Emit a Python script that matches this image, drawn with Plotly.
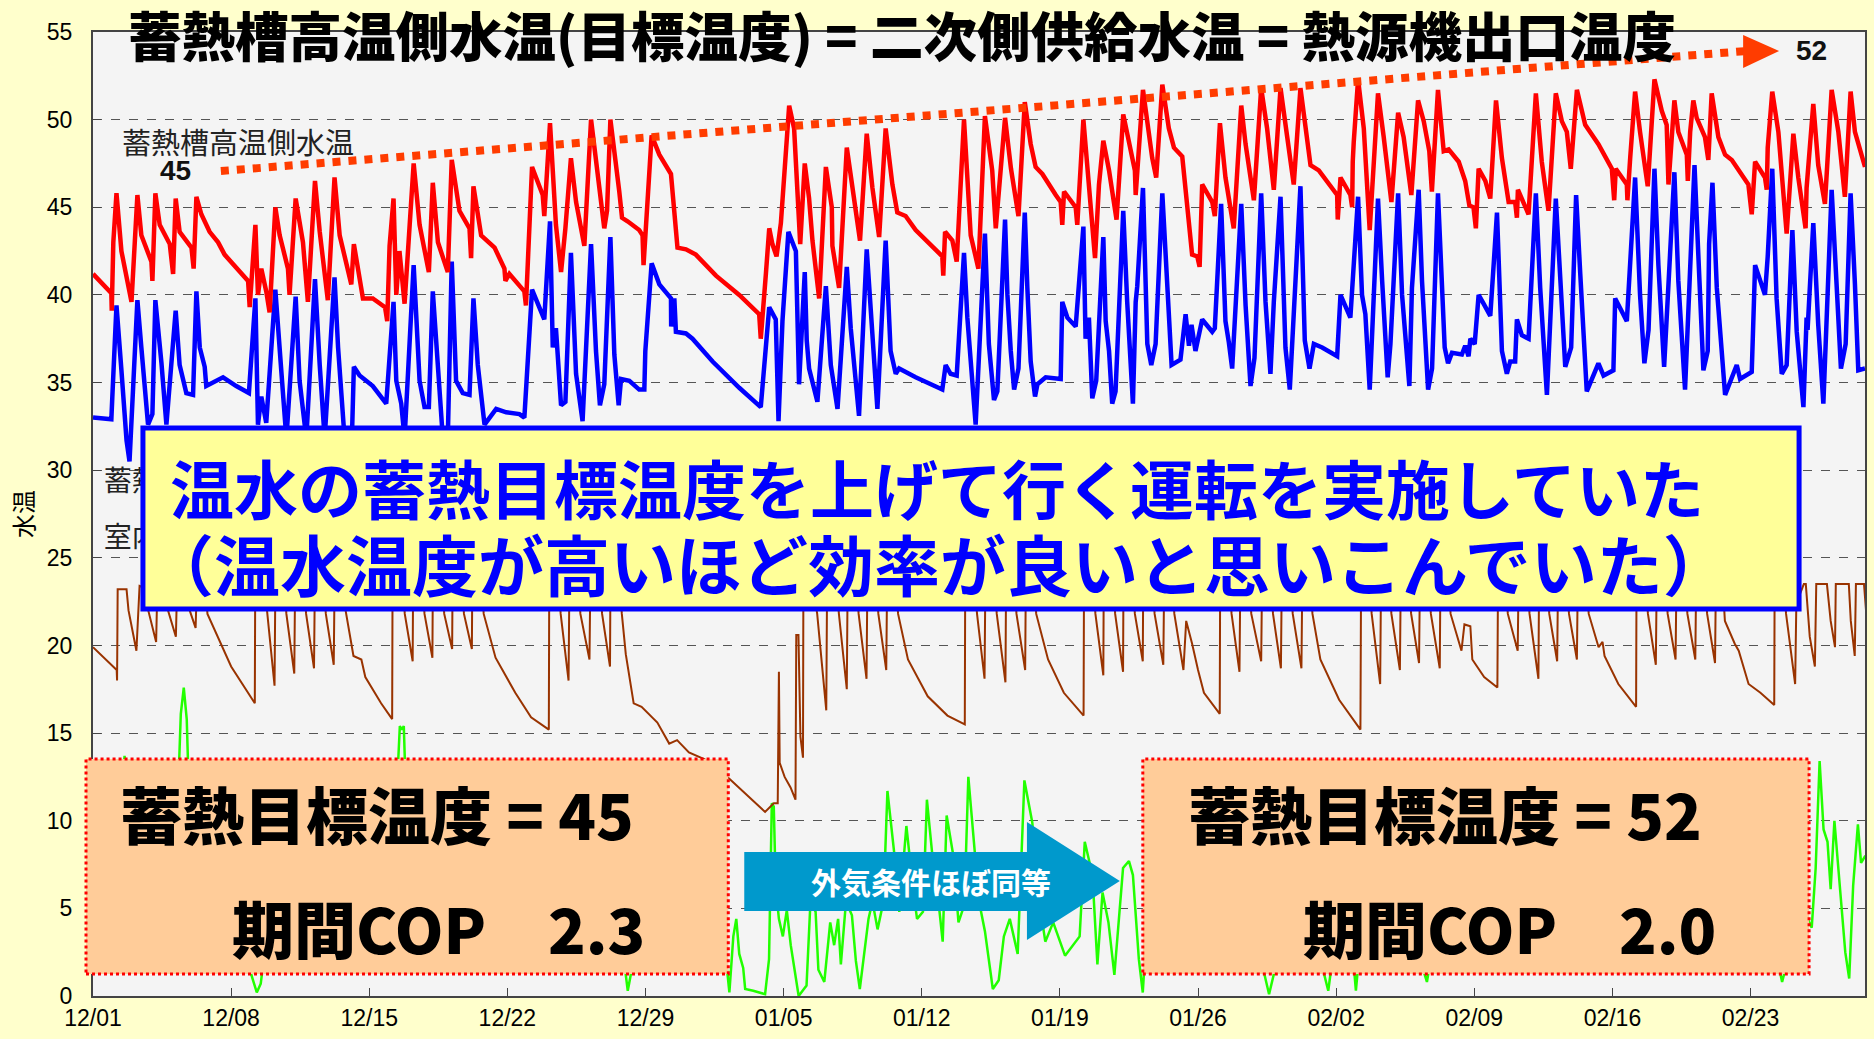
import plotly.graph_objects as go
import pandas as pd

# ---------------- data (day offset from 12/01, value in deg C) ----------------
red_day = [0,0.93,0.95,1.02,1.03,1.19,1.44,1.95,2.25,2.45,2.96,3.01,3.16,3.38,3.89,4.06,4.19,4.39,4.99,5.1,5.24,5.49,5.91,6.34,6.67,7.86,7.94,8.23,8.36,8.53,8.78,8.95,9.24,9.46,9.88,9.96,10.27,10.64,10.89,11.25,11.49,11.9,12.24,12.5,12.92,13.09,13.22,13.68,14.18,14.8,14.91,15.03,15.23,15.37,15.53,15.79,16.25,16.55,17.02,17.22,17.48,17.98,18.18,18.57,19.08,19.16,19.28,19.67,20.35,20.85,20.9,21.1,21.86,21.94,22.25,22.79,22.87,23.16,
           23.46,23.72,23.94,24.22,24.48,24.9,25.24,25.57,25.91,26.05,26.22,26.67,26.81,27.09,27.68,27.85,27.9,28.31,28.7,29.29,29.62,30.05,30.55,31.57,32.75,33.76,33.84,34.1,34.27,34.43,34.64,34.86,34.94,35.28,35.53,35.84,36.07,36.29,36.46,36.8,37.14,37.44,37.47,37.81,38.2,38.49,38.87,39.21,39.5,39.84,40.17,40.51,40.76,41.18,41.69,43.04,43.09,43.18,43.55,43.77,44.14,44.48,44.87,45.2,45.57,45.75,
           46.22,46.52,46.9,47.22,47.52,47.77,48.11,48.79,49.04,49.12,49.21,49.8,49.88,50.19,50.47,50.78,50.98,51.2,51.49,51.87,52.21,52.5,52.8,52.84,53.21,53.68,53.88,54.19,54.52,54.78,55.2,55.7,55.96,56.08,56.21,56.72,56.85,57.11,57.39,57.81,58.19,58.41,58.83,59.2,59.5,59.84,60.18,60.52,60.85,61.19,61.7,62.12,62.62,63.05,63.08,63.22,63.72,63.81,63.84,63.89,64.11,64.4,64.7,65.12,65.41,65.8,66.14,66.42,66.81,67.15,67.44,67.72,67.85,68.16,68.45,
           68.7,69.21,69.54,69.75,69.96,70.08,70.22,70.56,70.81,71.1,71.4,71.74,72.07,72.16,72.21,72.75,73.12,73.42,73.76,74.13,74.44,74.69,74.89,75.2,75.62,76.29,76.97,77.09,77.17,77.73,77.76,77.9,78.15,78.4,78.79,79.13,79.5,79.75,79.84,80.14,80.34,80.77,80.82,80.94,81.1,81.27,81.69,81.86,82.03,82.37,82.71,83.05,83.89,84.06,84.23,84.73,84.82,84.87,85.1,85.41,85.83,86.17,86.42,86.79,86.84,87.18,87.43,87.77,88.11,88.45,88.78,89.07,89.29,89.8]
red_val = [41.2,40.1,39.1,41.5,43,45.8,42.5,39.6,45.7,43.4,41.9,40.8,45.8,44,42.9,41.2,45.5,43.6,42.7,41.5,45.6,44.6,43.6,43,42.3,40.8,39.3,44,40,41.5,40.2,39,45,43.4,41.5,40,45.5,43,39.6,46.5,43.6,39.7,46.7,43.4,41.5,40.6,42.9,39.8,39.8,39.3,38.5,42.8,45.5,40,42.5,39.5,47.5,44,41.3,46.4,43,41.3,47.7,44.8,43.8,42.1,46.2,43.4,42.7,41.5,40.8,41.2,40.2,39.4,47.3,45.7,44.5,49.8,
           44,41.3,43.8,47.8,45.3,42.8,50,46.7,43.8,44.8,50,45.9,44.4,44.2,43.7,43.4,41.7,49.1,48,46.9,42.7,42.6,42.3,41.1,40,38.9,37.5,41.2,43.8,42.9,42.2,44.1,45.3,50.8,49.5,42.9,47.5,45.5,43.1,39.8,47.3,45,42.8,40.4,48.4,45.9,43.1,49.2,46.1,43.3,49.5,46.3,44.7,44.5,43.7,42.2,41.1,43.6,43.1,41.9,50,43.4,41.5,50.2,47.1,43.8,
           50.1,47.2,44.5,51,48.6,47.3,46.9,45.7,45.3,44,45.9,45,44,50,46.5,42.1,46.3,48.8,47.1,44.3,50.3,48.6,47.1,45.7,51.7,47.8,46.7,52,49.5,48.4,47.9,42.3,42.2,41.6,46.3,45.3,44.5,49.8,46.7,43.8,50.8,48.6,45.4,51.8,49.5,46,51.8,49,46.3,51.8,47.4,47.1,46.3,45.7,44.3,46.7,45.7,45,47.6,48.7,52.3,49.5,43.7,51.5,49,45.3,50.4,49,45.7,51.1,49.9,48.2,45.9,51.7,48.2,
           48.3,47.6,46.5,45.1,45,43.8,47.2,46.5,45.5,51.1,47.8,45.3,45.3,44.4,46,44.6,51.5,47.6,44.8,51.5,49.9,49.3,47.2,51.7,49.7,48.6,47.2,45.4,47.2,46.3,45.4,47.8,51.6,49.3,46.2,52.3,50.5,49.7,46.3,51.1,49.3,48,46.5,49.3,51.1,50.1,49,47.7,51.5,49,48,47.7,46.3,44.6,47.6,46.7,46,48.4,51.6,49.3,43.5,49.2,46.7,43.8,46.1,50.9,47.4,45.2,51.7,49.3,45.6,51.6,49.3,47.3]

blue_day = [0,0.93,0.98,1.02,1.19,1.44,1.7,1.85,2.25,2.45,2.71,2.79,3.01,3.16,3.47,3.72,4.19,4.39,4.73,5.07,5.24,5.41,5.66,5.74,6.59,7.26,7.9,8.23,8.36,8.53,8.78,9.24,9.54,9.8,10.27,10.47,10.81,11.25,11.49,11.74,12.24,12.42,12.75,13.12,13.22,13.51,14.18,14.86,15.23,15.37,15.62,15.79,16.25,16.55,16.8,17.02,17.22,17.48,17.73,17.98,18.18,18.4,18.74,19.08,19.28,19.5,19.84,20.43,20.94,21.61,21.86,22.25,22.87,23.16,
            23.3,23.46,23.72,23.94,24.22,24.48,24.81,25.24,25.49,25.69,25.91,26.22,26.42,26.64,26.76,27.18,27.68,27.94,27.99,28.31,28.7,29.29,29.3,29.46,29.54,30.05,30.38,31.4,32.75,33.84,34.27,34.6,34.74,34.94,35.24,35.62,35.78,36.07,36.17,36.29,36.49,36.71,37.14,37.39,37.73,38.2,38.4,38.82,39.21,39.41,39.75,40.17,40.42,40.68,40.85,41.69,43.04,43.21,43.46,43.77,44.14,44.31,44.73,45.2,45.4,45.66,
            45.83,46.22,46.34,46.51,46.68,46.9,47.22,47.35,47.52,47.74,47.86,48.28,49.04,49.12,49.38,49.8,49.88,50.19,50.3,50.47,50.64,50.84,51.2,51.32,51.49,51.65,51.82,52.21,52.41,52.7,52.84,52.92,53.21,53.43,53.63,53.85,54.19,54.52,54.66,55.11,55.37,55.54,55.67,55.87,56.21,56.72,56.85,57.17,57.39,57.56,57.73,58.19,58.41,58.66,58.86,59.2,59.42,59.67,59.84,60.18,60.43,60.65,61.19,61.41,61.65,61.87,62.29,63.05,63.22,63.72,63.84,63.89,64.11,64.31,64.48,64.7,65.12,65.33,65.61,65.75,66.14,66.34,66.71,66.84,67.18,67.35,67.66,67.86,
            68.16,68.36,68.5,68.67,68.87,69.37,69.54,69.71,69.8,70.02,70.22,70.47,70.81,70.98,71.15,71.4,71.65,71.82,72.07,72.16,72.41,72.75,73.12,73.34,73.68,74.13,74.35,74.61,74.91,75.16,75.37,75.7,76.29,76.55,77.05,77.14,77.73,78.15,78.4,78.62,78.83,79.13,79.33,79.62,80.14,80.34,80.68,81.16,81.36,81.61,81.83,81.9,82.07,82.29,82.71,83.3,83.47,84.06,84.23,84.73,84.87,85.1,85.32,85.58,85.83,86.12,86.34,86.68,86.84,86.89,87.18,87.43,87.69,88.11,88.36,88.58,88.82,89.07,89.29,89.46,89.8]
blue_val = [33,32.9,34.2,35.5,39.4,35.7,31.7,30.5,39.7,37,33.2,32.6,33.2,39.7,36.1,32.6,39.1,36,34.4,34.3,40.2,37,35.9,34.8,35.3,34.8,34.4,39.8,32.6,34.2,32.7,40.3,35.7,31.8,39.9,35.1,31.8,40.9,36,31.8,41,37,31.8,31.8,35.9,35.4,34.8,33.8,39.6,35.1,33.8,31.8,41.7,35.1,33.6,33.6,40.2,36,31.8,31.8,41.9,35.1,34.4,34.3,39.8,36,32.6,33.5,33.3,33.2,33,40.3,38.6,44.2,
            37,38.1,33.7,33.9,42.4,35.5,32.8,42.9,36.8,33.7,34.9,43.3,36.6,33.7,35.2,35.1,34.6,34.6,36.8,41.8,40.6,39.8,38.2,39.8,37.9,37.8,37.5,36.2,34.7,33.6,39.3,38.6,32.8,38.5,43.6,42.5,34.9,41.3,37.4,35.8,34.8,33.9,40.5,36,33.5,41.6,38.1,33.1,42.6,38.9,33.5,43.1,36.8,35.5,35.8,35.3,34.6,36,35.5,35.4,42.4,38.7,32.6,43.5,37.2,34,
            34.5,44.3,40,36.8,34.6,35.8,44.7,40.4,36.2,34.2,34.9,35.3,35.2,39.6,38.7,38.2,39.4,43.9,37.5,38.7,34.1,35.1,43.3,38.5,36.8,33.8,34.5,44.8,39.6,33.8,39.6,40.5,46.1,37.2,36,37.2,45.8,38.7,36,36.3,38.9,37.1,38.3,36.8,38.6,37.9,38.1,45.2,38.5,37.3,35.8,45.2,39.4,34.8,36.4,45.8,39.6,35.5,39.6,45.6,37,34.6,46.2,37.4,35.8,37.2,37,36.5,40,38.7,40.9,41.9,45.6,40,38.9,34.6,45.5,40.8,35.3,37.2,45.8,40,34.8,40.4,46,40.8,34.6,35.8,
            45.8,40.6,37,36.1,36.7,36.6,37.1,36.5,37.5,37.2,40,39.5,38.8,41.7,44.7,36.8,35.5,36.2,36.2,38.6,37.7,37.5,45.8,40.4,34.3,45.5,40.6,35.9,37,45.7,41.2,34.5,36.1,35.4,35.7,39.8,38.5,46.7,40,36.1,38,47.2,41.7,35.9,47,40.8,34.6,47.4,42.1,35.7,36.8,42.9,46.4,40.4,34.3,36,35.2,35.6,41.7,40,42.2,47.2,39.8,35.5,36,43.7,37.9,33.6,38.7,38,44.1,38.3,33.8,46,40.6,35.8,37.2,45.8,40.6,35.7,35.8]

brown_day = [0,1.2,1.22,1.25,1.7,1.8,2.2,2.36,2.6,2.8,3.2,3.26,3.7,3.8,4.2,4.26,4.75,4.9,5.2,5.26,5.7,5.8,7.0,8.2,
             8.22,8.7,8.8,9.2,9.24,9.7,9.8,10.2,10.24,10.7,10.8,11.2,11.24,11.7,11.8,12.2,12.24,12.7,12.8,13.2,13.6,13.8,14.6,15.16,
             15.18,15.7,15.8,16.2,16.22,16.7,16.8,17.2,17.22,17.7,17.8,18.2,18.22,18.7,18.8,19.2,19.22,19.7,19.8,20.4,21.4,22.2,23.1,
             23.12,23.6,23.7,24.1,24.14,24.6,24.7,25.16,25.2,25.7,25.8,26.2,26.22,26.7,26.8,27.0,27.4,27.8,28.6,29.2,29.6,30.2,31.0,32.25,34.06,34.5,34.7,34.76,34.8,35.05,35.35,35.6,35.64,35.75,35.85,35.98,
             36.0,36.5,36.7,37.16,37.2,37.7,37.8,38.2,38.24,38.7,38.8,39.2,39.24,39.7,39.8,40.2,40.24,40.7,40.8,41.3,42.3,43.3,44.18,
             44.2,44.7,44.8,45.18,45.22,45.7,45.8,46.24,46.27,46.7,46.8,47.24,47.27,47.7,47.8,48.4,49.2,50.2,
             50.22,50.7,50.8,51.2,51.22,51.7,51.8,52.2,52.22,52.7,52.8,53.2,53.22,53.7,53.8,54.24,54.28,54.7,54.8,55.26,55.4,55.7,56.0,56.3,57.1,
             57.12,57.6,57.7,58.1,58.14,58.6,58.7,59.2,59.24,59.7,59.8,60.2,60.24,60.7,60.8,61.24,61.28,61.7,61.8,62.2,63.15,64.23,
             64.26,64.7,64.8,65.23,65.27,65.7,65.8,66.23,66.27,66.7,66.8,67.2,67.24,67.7,67.8,68.25,68.28,68.7,68.8,69.35,69.5,69.8,69.9,70.5,71.17,
             71.2,71.6,71.7,72.2,72.24,72.7,72.8,73.25,73.28,73.7,73.8,74.2,74.24,74.7,74.8,75.2,75.24,75.7,75.8,76.3,76.5,76.6,77.3,78.2,
             78.22,78.7,78.8,79.2,79.24,79.7,79.8,80.2,80.24,80.7,80.8,81.2,81.24,81.7,81.8,82.2,82.24,82.6,82.7,83.2,83.4,83.9,84.5,85.2,
             85.22,85.7,85.8,86.26,86.32,86.7,86.8,87.0,87.26,87.33,87.87,88.06,88.28,88.32,88.98,89.08,89.28,89.34,89.75,89.94]
brown_val = [19.9,18.6,18.0,23.2,23.2,22.0,19.7,23.4,23.3,22.0,20.2,23.3,23.3,22.0,20.5,23.3,23.3,22.0,21.0,23.3,23.3,21.8,18.8,16.7,
             23.3,23.3,22.2,17.7,23.3,23.3,21.8,18.4,23.3,23.3,21.8,18.7,23.3,23.3,21.8,18.9,23.3,23.3,22.0,19.4,19.2,18.2,16.7,15.8,
             23.3,23.3,21.8,19.1,23.3,23.3,21.8,19.3,23.3,23.3,21.8,19.8,23.3,23.3,21.8,19.8,23.3,23.3,21.8,19.3,17.3,15.9,15.2,
             23.3,23.3,21.8,18.0,23.3,23.3,21.8,19.2,23.3,23.3,21.8,18.8,23.3,23.3,21.8,19.5,16.7,16.5,15.6,14.4,14.6,13.9,13.5,12.4,10.5,11.0,11.0,18.5,13.3,12.5,11.9,11.2,20.6,20.6,14.8,13.6,
             23.3,23.3,21.8,16.3,23.3,23.3,21.8,17.5,23.3,23.3,21.8,18.1,23.3,23.3,21.8,18.6,23.3,23.3,21.8,19.2,17.1,16.0,15.5,
             23.3,23.3,21.8,18.1,23.3,23.3,21.8,17.9,23.3,23.3,21.8,18.6,23.3,23.3,21.8,19.2,17.3,16.0,
             23.3,23.3,21.8,18.3,23.3,23.3,21.8,18.5,23.3,23.3,21.8,19.1,23.3,23.3,21.8,18.9,23.3,23.3,21.8,18.6,21.4,20.1,18.6,17.3,16.1,
             23.3,23.3,21.8,18.5,23.3,23.3,21.8,19.1,23.3,23.3,21.8,18.7,23.3,23.3,21.8,18.7,23.3,23.3,21.8,19.2,16.9,15.2,
             23.3,23.3,21.8,17.8,23.3,23.3,21.8,18.6,23.3,23.3,21.8,19.0,23.3,23.3,21.8,18.7,23.3,23.3,21.8,19.7,21.2,21.1,19.2,18.2,17.6,
             23.3,23.3,21.8,19.7,23.3,23.3,21.8,18.1,23.3,23.3,21.8,19.1,23.3,23.3,21.8,19.2,23.3,23.3,21.8,19.9,20.2,19.4,17.8,16.5,
             23.3,23.3,21.8,18.9,23.3,23.3,21.8,19.2,23.3,23.3,21.8,19.2,23.3,23.3,21.8,19.0,23.3,23.3,21.4,20.1,19.7,17.8,17.3,16.6,
             23.3,23.3,21.8,17.8,22.4,23.5,23.5,20.5,18.8,23.5,23.5,21.4,19.9,23.5,23.5,21.4,19.4,23.5,23.5,20.7]

green_day = [0,0.3,0.6,1.0,1.6,1.9,2.3,2.6,3.0,3.4,3.8,4.2,4.45,4.6,4.75,4.85,5.3,5.7,6.3,6.7,7.3,7.7,8.0,8.3,8.5,8.7,9.0,9.4,9.8,10.3,10.7,11.2,11.6,12.2,12.6,13.2,13.6,14.2,14.7,15.2,15.55,15.65,15.75,15.9,16.3,16.7,17.3,17.7,18.3,18.7,19.3,19.7,20.3,20.7,21.3,21.7,22.3,22.7,23.3,23.7,24.3,24.7,25.3,25.7,26.3,26.7,27.0,27.1,27.25,27.7,28.3,28.7,29.3,29.7,30.3,30.7,31.3,31.7,32.15,
             32.25,32.45,32.6,32.75,32.95,33.05,33.46,34.06,34.26,34.4,34.5,34.6,34.76,34.96,35.16,35.36,35.56,35.76,36.16,36.36,36.62,36.76,37.06,37.36,37.56,37.76,37.9,38.16,38.46,38.66,38.86,39.3,39.5,39.76,40.06,40.26,40.6,40.86,41.22,41.56,41.76,42.06,42.26,42.6,42.76,43.06,43.26,43.6,43.86,44.16,44.36,44.7,44.9,45.2,45.6,45.9,46.16,46.46,46.86,47.2,47.6,47.86,48.06,48.26,48.66,49.26,50.0,50.26,50.65,50.9,51.16,51.46,51.76,52.2,52.5,52.7,53.0,53.2,53.46,
             53.9,54.4,54.8,55.1,55.5,56.0,56.6,57.0,57.6,58.0,58.6,59.0,59.6,60.0,60.3,60.6,61.0,61.6,62.0,62.6,63.15,63.5,64.0,64.3,64.7,65.0,65.6,66.0,66.6,67.0,67.6,68.2,68.6,69.0,69.6,70.0,70.6,71.0,71.6,72.0,72.6,73.0,73.6,74.0,74.6,75.0,75.6,76.0,76.6,77.0,77.6,78.0,78.6,79.0,79.6,80.0,80.6,81.0,81.6,82.0,82.6,83.0,83.6,84.0,84.6,85.0,85.6,86.1,86.5,
             87.1,87.3,87.5,87.7,87.9,88.06,88.25,88.6,88.8,89.0,89.2,89.44,89.6,89.82,89.9]
green_val = [5,3,8,6,13.7,8,4,9,5,3,10,8,16.1,17.6,15.8,12,6,9,4,7,3,5,1.3,0.2,0.7,2.5,6,3,8,4,9,2,8,4,10,5,11,6,9,7,15.4,15.2,15.4,10,5,9,4,8,5,10,4,9,3,8,4,11,5,9,3,7,4,10,5,8,3,6,1.2,0.3,1.2,7,3,9,4,8,3,6,2,5,1.3,
             0.2,3.4,4.4,2.4,1.6,0.4,0.3,0.1,2.1,11,10.8,6.2,4.4,3.4,4.9,2.9,1.5,0,0.6,5.4,4.8,1.5,0.8,4.2,2.9,4.4,1.8,5.4,4.6,2.0,0.4,4.4,5.4,3.8,5.4,11.7,8.2,4.8,9.7,6.1,4.4,4.8,11.2,7.3,6.3,3.1,10.3,8,4.2,5.2,12.5,8,5.4,3.7,0.4,0.9,3.4,4.4,2.4,12.3,9.9,6.5,4.6,3.1,4.2,2.3,3.4,8.8,6.9,1.8,5.9,4.2,1.2,7.3,7.7,6.9,2.1,0.2,
             5,8,3,1.2,6,9,4,8,3,7,4,9,3,0.1,2,6,10,4,8,3,0.3,5,7,0.3,4,9,5,10,4,8,3,0.8,5,9,4,10,5,11,4,8,3,7,4,9,3,8,4,10,5,9,4,7,3,8,4,10,5,9,4,8,3,7,4,9,3,8,4,0.8,3,
             5.4,3.9,7.3,13.4,9.5,8.8,6.1,10,5.4,2.5,1.0,6.3,9.8,7.6,8.0]

x_ticks = ["12/01","12/08","12/15","12/22","12/29","01/05","01/12","01/19","01/26","02/02","02/09","02/16","02/23"]

base = pd.Timestamp("2013-12-01")
def to_dates(days):
    return base + pd.to_timedelta(days, unit="D")

# ---------------- pixel helpers (plot area in page px) ----------------
W, H = 1874, 1039
L, R, T, B = 93, 1867, 32, 996
def px(x): return (x - L) / (R - L)
def py(y): return (B - y) / (B - T)

fig = go.Figure()
fig.add_trace(go.Scatter(x=to_dates(green_day), y=green_val, mode="lines",
                         line=dict(color="#22ff00", width=2.5), name="外気温", showlegend=False))
fig.add_trace(go.Scatter(x=to_dates(brown_day), y=brown_val, mode="lines",
                         line=dict(color="#993300", width=2), name="室内温度", showlegend=False))
fig.add_trace(go.Scatter(x=to_dates(blue_day), y=blue_val, mode="lines",
                         line=dict(color="#0000ff", width=4.5), name="蓄熱槽低温側水温", showlegend=False))
fig.add_trace(go.Scatter(x=to_dates(red_day), y=red_val, mode="lines",
                         line=dict(color="#ff0000", width=4.5), name="蓄熱槽高温側水温", showlegend=False))

# labels partly hidden behind the message box (drawn as traces so the box covers them)
fig.add_trace(go.Scatter(x=to_dates([0.55, 0.55]), y=[29.2, 26.0], mode="text",
                         text=["蓄熱槽低温側水温", "室内温度"], textposition="middle right",
                         textfont=dict(family="Noto Sans CJK JP", size=28, color="#222222"),
                         showlegend=False, hoverinfo="skip"))

shapes = []
# dotted trend arrow
shapes.append(dict(type="line", xref="paper", yref="paper", x0=px(221), y0=py(171), x1=px(1748), y1=py(51),
                   line=dict(color="#ff3c00", width=8, dash="dot"), layer="above"))
shapes.append(dict(type="path", xref="paper", yref="paper",
                   path=f"M {px(1745)} {py(35)} L {px(1781)} {py(51)} L {px(1745)} {py(68)} Z",
                   fillcolor="#ff3c00", line=dict(width=0), layer="above"))
# yellow message box
shapes.append(dict(type="rect", xref="paper", yref="paper", x0=px(143), y0=py(609), x1=px(1801), y1=py(428),
                   fillcolor="#ffff99", line=dict(color="#0000ff", width=5), layer="above"))
# orange boxes
for x0, x1 in [(86, 729), (1144, 1811)]:
    shapes.append(dict(type="rect", xref="paper", yref="paper", x0=px(x0), y0=py(974), x1=px(x1), y1=py(759),
                       fillcolor="#ffcc99", line=dict(color="#ff0000", width=3, dash="dot"), layer="above"))
# blue arrow
shapes.append(dict(type="path", xref="paper", yref="paper",
                   path=(f"M {px(745)} {py(852)} L {px(1028)} {py(852)} L {px(1028)} {py(822)} "
                         f"L {px(1121)} {py(881)} L {px(1028)} {py(940)} L {px(1028)} {py(911)} "
                         f"L {px(745)} {py(911)} Z"),
                   fillcolor="#0099cc", line=dict(width=0), layer="above"))

JP = "Noto Sans CJK JP"
ann = []
def add_text(text, x, y, size, color="#000000", weight=700, xanchor="left", family=JP):
    ann.append(dict(text=text, x=px(x), y=py(y), xref="paper", yref="paper",
                    xanchor=xanchor, yanchor="middle", showarrow=False,
                    font=dict(family=family, size=size, color=color, weight=weight)))

add_text("蓄熱槽高温側水温(目標温度) = 二次側供給水温 = 熱源機出口温度", 903, 34, 53.5, weight=900, xanchor="center")
add_text("蓄熱槽高温側水温", 120, 141, 29, color="#222222", weight=400)
add_text("45", 176, 170, 28, color="#111111", xanchor="center", family="Liberation Sans")
add_text("52", 1813, 50, 28, color="#111111", xanchor="center", family="Liberation Sans")
add_text("温水の蓄熱目標温度を上げて行く運転を実施していた", 168, 486, 64, color="#0000ff")
add_text("（温水温度が高いほど効率が良いと思いこんでいた）", 146, 562, 66, color="#0000ff")
add_text("蓄熱目標温度 = 45", 118, 813, 62, weight=900)
add_text("期間COP　2.3", 230, 927, 62, weight=900)
add_text("蓄熱目標温度 = 52", 1187, 813, 62, weight=900)
add_text("期間COP　2.0", 1302, 927, 62, weight=900)
add_text("外気条件ほぼ同等", 932, 881, 30, color="#ffffff", xanchor="center")

fig.update_layout(
    width=W, height=H, autosize=False,
    margin=dict(l=L, r=W - R, t=T, b=H - B),
    paper_bgcolor="#ffffcc", plot_bgcolor="#f4f4f4",
    shapes=shapes, annotations=ann, showlegend=False,
    font=dict(family="Liberation Sans", color="#000000"),
)
fig.update_xaxes(type="date", range=[base, base + pd.Timedelta(days=89.8)],
                 tickvals=to_dates([7 * i for i in range(len(x_ticks))]), ticktext=x_ticks,
                 ticks="inside", ticklen=8, tickcolor="#444444", showgrid=False,
                 showline=True, linecolor="#444444", linewidth=2, mirror=True,
                 tickfont=dict(family="Liberation Sans", size=23, color="#000000"))
fig.update_yaxes(range=[0, 55], dtick=5, tick0=0, ticks="inside", ticklen=8, tickcolor="#444444",
                 showgrid=True, gridcolor="#555555", griddash="dash", gridwidth=1, zeroline=False,
                 showline=True, linecolor="#444444", linewidth=2, mirror=True, ticklabelstandoff=14,
                 tickfont=dict(family="Liberation Sans", size=23, color="#000000"),
                 title=dict(text="水温", font=dict(family=JP, size=24, color="#000000"), standoff=6))

fig.write_html("out.html")
